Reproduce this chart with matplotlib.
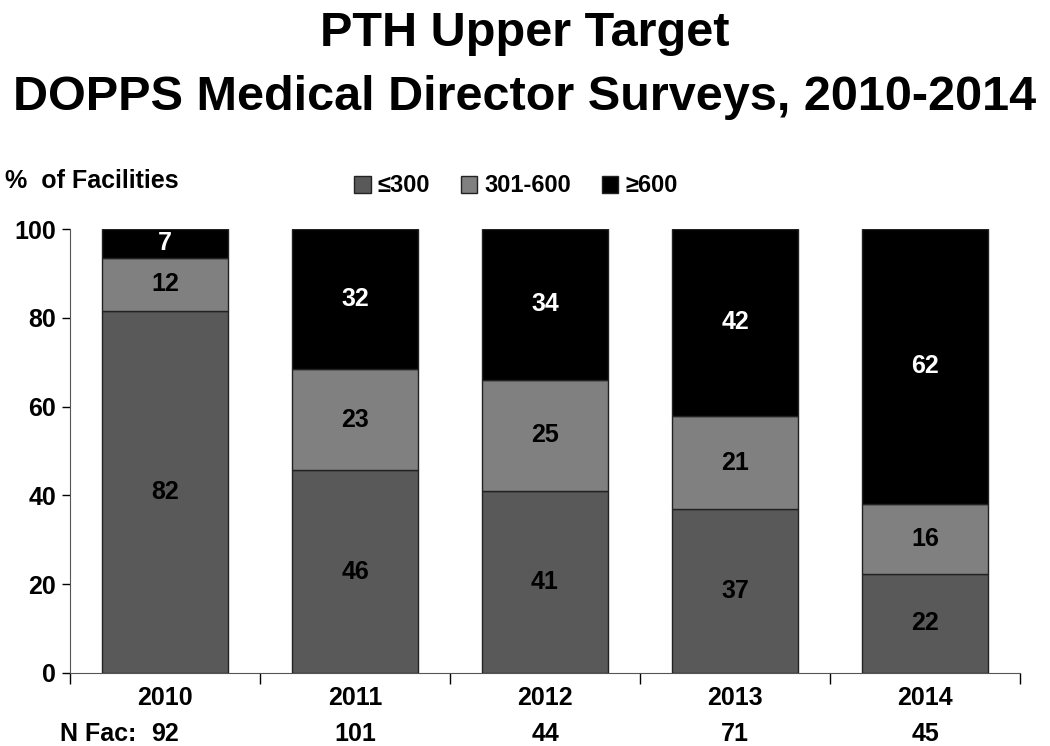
import matplotlib.pyplot as plt
import numpy as np

plt.rcParams['font.family'] = ['Liberation Sans', 'DejaVu Sans']
plt.rcParams['font.weight'] = 'bold'

years = ['2010', '2011', '2012', '2013', '2014']
n_fac = ['92', '101', '44', '71', '45']
# estimated bar heights (% of facilities) and the printed labels
low = [81.6, 45.7, 41.1, 36.9, 22.4]
mid = [11.9, 22.7, 24.9, 21.0, 15.7]
high = [6.5, 31.6, 34.0, 42.1, 61.9]
low_lbl = ['82', '46', '41', '37', '22']
mid_lbl = ['12', '23', '25', '21', '16']
high_lbl = ['7', '32', '34', '42', '62']
series_names = ['≤300', '301-600', '≥600']

colors = ['#595959', '#808080', '#000000']

fig = plt.figure(figsize=(10.5, 7.46), dpi=100)
ax = fig.add_axes([70 / 1050, 1 - 673 / 746, 950 / 1050, 444 / 746])

x = np.arange(len(years))
w = 0.66
bottom = np.zeros(len(years))
for vals, lbls, col, name in zip([low, mid, high], [low_lbl, mid_lbl, high_lbl], colors, series_names):
    ax.bar(x, vals, w, bottom=bottom, color=col, edgecolor='#222222', linewidth=1, label=name)
    txtcol = 'white' if col == '#000000' else 'black'
    for i in range(len(years)):
        ax.text(x[i], bottom[i] + vals[i] / 2, lbls[i], ha='center', va='center',
                fontsize=18, fontweight='bold', color=txtcol)
    bottom += np.array(vals)

ax.set_xlim(-0.5, len(years) - 0.5)
ax.set_ylim(0, 100)
ax.set_yticks([0, 20, 40, 60, 80, 100])
ax.tick_params(axis='y', labelsize=18, direction='out', length=6, width=1, pad=4)
ax.set_xticks(np.arange(len(years) + 1) - 0.5)
ax.set_xticklabels([])
ax.tick_params(axis='x', direction='out', length=8, width=1)
for lab in ax.get_yticklabels():
    lab.set_fontweight('bold')
for s in ['top', 'right']:
    ax.spines[s].set_visible(False)
ax.spines['left'].set_color('#555555')
ax.spines['bottom'].set_color('#555555')

# year row and number of facilities row under the axis
for i in range(len(years)):
    ax.text(x[i], -3.0, years[i], ha='center', va='top', fontsize=18, fontweight='bold')
    ax.text(x[i], -11.0, n_fac[i], ha='center', va='top', fontsize=18, fontweight='bold')
ax.text(-0.15, -11.0, 'N Fac:', ha='right', va='top', fontsize=18, fontweight='bold')

fig.text(0.5, 1 - 34 / 746, 'PTH Upper Target', ha='center', va='center', fontsize=35, fontweight='bold')
fig.text(0.5, 1 - 98 / 746, 'DOPPS Medical Director Surveys, 2010-2014', ha='center', va='center',
         fontsize=35, fontweight='bold')
fig.text(5 / 1050, 1 - 181 / 746, '%  of Facilities', ha='left', va='center', fontsize=18, fontweight='bold')

ax.legend(loc='center', bbox_to_anchor=(516 / 1050, 1 - 186 / 746), bbox_transform=fig.transFigure,
          ncol=3, frameon=False, fontsize=17, handlelength=0.7, handleheight=0.7,
          handletextpad=0.3, columnspacing=1.3)

fig.savefig('out.png', dpi=100)
